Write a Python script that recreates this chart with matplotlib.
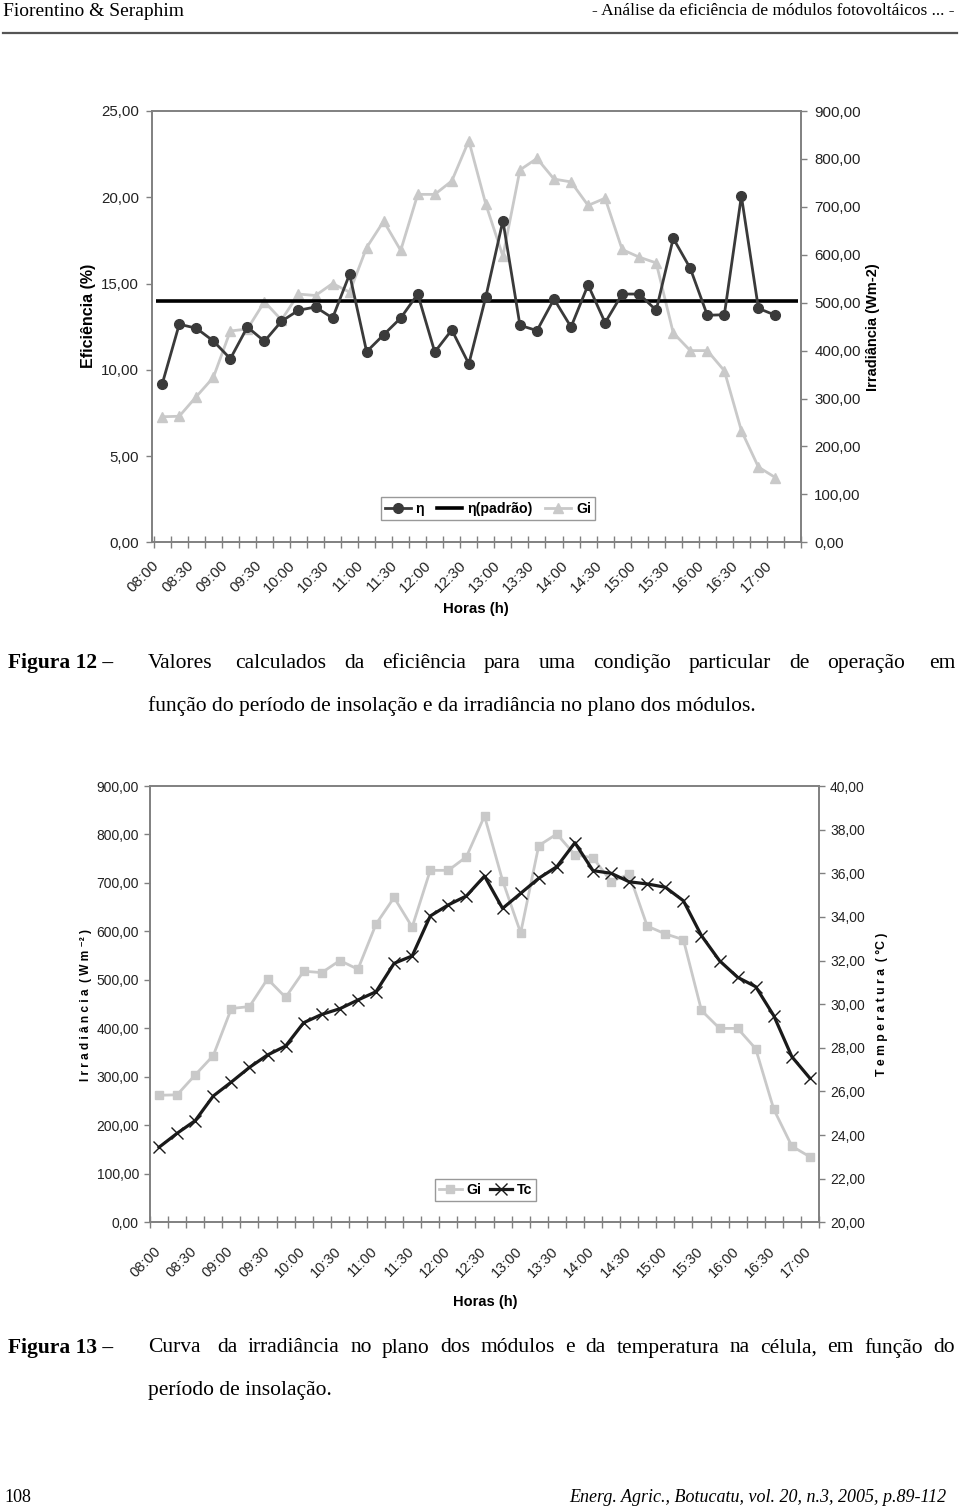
import matplotlib
matplotlib.use('Agg')
import matplotlib.pyplot as plt
from matplotlib.lines import Line2D
from matplotlib.ticker import FuncFormatter
import numpy as np

# ---------------- data ----------------
times = ["08:00", "08:15", "08:30", "08:45", "09:00", "09:15", "09:30", "09:45",
         "10:00", "10:15", "10:30", "10:45", "11:00", "11:15", "11:30", "11:45",
         "12:00", "12:15", "12:30", "12:45", "13:00", "13:15", "13:30", "13:45",
         "14:00", "14:15", "14:30", "14:45", "15:00", "15:15", "15:30", "15:45",
         "16:00", "16:15", "16:30", "16:45", "17:00"]

eta = [9.18, 12.64, 12.41, 11.67, 10.64, 12.48, 11.65, 12.81, 13.45, 13.64,
       13.00, 15.54, 11.05, 12.03, 13.00, 14.39, 11.03, 12.31, 10.34, 14.24,
       18.64, 12.58, 12.27, 14.10, 12.48, 14.92, 12.73, 14.39, 14.39, 13.45,
       17.62, 15.88, 13.16, 13.19, 20.07, 13.56, 13.16]

eta_padrao = 14.0

gi = [262, 263, 304, 344, 441, 445, 502, 464, 518, 515,
      540, 522, 615, 670, 609, 726, 726, 754, 838, 705,
      597, 777, 801, 758, 752, 703, 718, 611, 595, 583,
      437, 400, 400, 358, 233, 157, 135]

tc = [23.44, 24.08, 24.66, 25.79, 26.43, 27.10, 27.67, 28.08, 29.15, 29.53,
      29.79, 30.19, 30.57, 31.87, 32.21, 34.04, 34.55, 34.96, 35.87, 34.39,
      35.08, 35.77, 36.30, 37.40, 36.12, 36.00, 35.61, 35.51, 35.36, 34.74,
      33.14, 31.99, 31.23, 30.80, 29.47, 27.59, 26.60]

eff_ticks = [0, 5, 10, 15, 20, 25]
irr_ticks = [0, 100, 200, 300, 400, 500, 600, 700, 800, 900]
temp_ticks = [20, 22, 24, 26, 28, 30, 32, 34, 36, 38, 40]

# ---------------- helpers ----------------
W, H = 960, 1508
fig = plt.figure(figsize=(W / 100, H / 100), dpi=100)
fig.patch.set_facecolor('white')


def fx(x):
    return x / W


def fy(y):
    return 1 - y / H


def box(l, t, r, b):
    return [fx(l), fy(b), fx(r) - fx(l), fy(t) - fy(b)]


comma = FuncFormatter(lambda v, p: f"{v:.2f}".replace('.', ','))
SPINE = '#808080'
SANS = ['Liberation Sans', 'DejaVu Sans']
SERIF = ['Liberation Serif', 'DejaVu Serif']
GI_COL = '#c9c9c9'


def style_axes(ax, axr, ncat, fs, xfs, xshift, xpad, ypad):
    for a in (ax, axr):
        for s in a.spines.values():
            s.set_color(SPINE)
            s.set_linewidth(1.2)
    ax.set_xlim(-0.5, ncat - 0.5)
    ax.set_xticks(np.arange(-0.5, ncat, 1.0))
    ax.set_xticklabels([])
    ax.set_xticks(np.arange(0, len(times), 2) + xshift, minor=True)
    ax.set_xticklabels(times[::2], minor=True, rotation=45, ha='right',
                       va='top', rotation_mode='anchor', family=SANS,
                       fontsize=xfs, color='#222222')
    ax.tick_params(axis='x', which='major', direction='inout', length=8,
                   width=1, color=SPINE)
    ax.tick_params(axis='x', which='minor', length=0, pad=xpad)
    ax.tick_params(axis='y', direction='out', length=4, width=1,
                   color=SPINE, pad=ypad, labelsize=fs, labelcolor='#222222')
    axr.tick_params(axis='y', direction='out', length=4, width=1,
                    color=SPINE, pad=ypad, labelsize=fs, labelcolor='#222222')
    for lab in ax.get_yticklabels() + axr.get_yticklabels():
        lab.set_family(SANS)


def justify(words, gaps, x0, x1, y, **kw):
    texts = [fig.text(0, fy(y), w, ha='left', va='center', **kw) for w in words]
    r = fig.canvas.get_renderer()
    widths = [t.get_window_extent(r).width for t in texts]
    unit = ((x1 - x0) - sum(widths)) / sum(gaps)
    xx = x0
    for t, w, g in zip(texts, widths, list(gaps) + [0]):
        t.set_x(fx(xx))
        xx += w + g * unit


# ---------------- header / footer ----------------
fig.text(fx(3), fy(11), "Fiorentino & Seraphim", family=SERIF, fontsize=14,
         ha='left', va='center')
fig.text(fx(955), fy(11), "- Análise da eficiência de módulos fotovoltáicos ... -",
         family=SERIF, fontsize=12.5, ha='right', va='center')
fig.add_artist(Line2D([fx(3), fx(957)], [fy(33), fy(33)], color='#555555',
                      lw=1.6, transform=fig.transFigure))
fig.text(fx(4), fy(1497), "108", family=SERIF, fontsize=13, ha='left', va='center')
fig.text(fx(946), fy(1497), "Energ. Agric., Botucatu, vol. 20, n.3, 2005, p.89-112",
         family=SERIF, fontsize=13, style='italic', ha='right', va='center')

# ---------------- Figure 12 ----------------
ax1 = fig.add_axes(box(152, 111, 801, 542.3))
ax1r = ax1.twinx()
x = np.arange(len(times))
ax1r.plot(x, gi, color=GI_COL, lw=2.0, marker='^', ms=6.5, mfc=GI_COL,
          mec=GI_COL)
ax1.plot(x, eta, color='#3a3a3a', lw=2.0, marker='o', ms=7, mfc='#3a3a3a',
         mec='#3a3a3a', zorder=3)
ax1.hlines(eta_padrao, -0.35, 37.3, color='black', lw=2.6, zorder=2)
ax1.set_zorder(ax1r.get_zorder() + 1)
ax1.patch.set_visible(False)
ax1.set_ylim(0, 25)
ax1.set_yticks(eff_ticks)
ax1.yaxis.set_major_formatter(comma)
ax1r.set_ylim(0, 900)
ax1r.set_yticks(irr_ticks)
ax1r.yaxis.set_major_formatter(comma)
style_axes(ax1, ax1r, 38, 10.8, 11, -0.6, 11.5, 5.5)

fig.text(fx(88), fy(316), "Eficiência (%)", rotation=90, ha='center',
         va='center', family=SANS, fontsize=11.5, weight='bold')
fig.text(fx(873), fy(327), "Irradiância (Wm-2)", rotation=90, ha='center',
         va='center', family=SANS, fontsize=10.5, weight='bold')
fig.text(fx(476), fy(609), "Horas (h)", ha='center', va='center', family=SANS,
         fontsize=10.8, weight='bold')

h_eta = Line2D([], [], color='#3a3a3a', lw=2.0, marker='o', ms=7)
h_pad = Line2D([], [], color='black', lw=2.6)
h_gi1 = Line2D([], [], color=GI_COL, lw=2.0, marker='^', ms=6.5)
leg1 = ax1.legend([h_eta, h_pad, h_gi1], ["η", "η(padrão)", "Gi"], ncol=3,
                  loc='center', bbox_to_anchor=(fx(488), fy(508.5)),
                  bbox_transform=fig.transFigure, frameon=True, fancybox=False,
                  edgecolor=SPINE, handlelength=1.8, handletextpad=0.35,
                  columnspacing=0.9, borderpad=0.3,
                  prop={'family': SANS, 'weight': 'bold', 'size': 10.2})
leg1.get_frame().set_linewidth(1.0)

# caption 12
CAP = dict(family=SERIF, fontsize=15.5)
fig.text(fx(8), fy(663), "Figura 12 –", weight='bold', ha='left', va='center', **CAP)
w1 = "Valores calculados da eficiência para uma condição particular de operação em".split()
g1 = [1.25] + [1] * (len(w1) - 3) + [1.3]
justify(w1, g1, 148, 955, 663, **CAP)
fig.text(fx(148), fy(706),
         "função do período de insolação e da irradiância no plano dos módulos.",
         ha='left', va='center', **CAP)

# ---------------- Figure 13 ----------------
ax2 = fig.add_axes(box(150, 786, 819, 1222.3))
ax2r = ax2.twinx()
ax2.plot(x, gi, color=GI_COL, lw=2.0, marker='s', ms=6, mfc=GI_COL, mec=GI_COL)
ax2r.plot(x, tc, color='#1a1a1a', lw=2.3, marker='x', ms=8, mew=1.0)
ax2.set_ylim(0, 900)
ax2.set_yticks(irr_ticks)
ax2.yaxis.set_major_formatter(comma)
ax2r.set_ylim(20, 40)
ax2r.set_yticks(temp_ticks)
ax2r.yaxis.set_major_formatter(comma)
style_axes(ax2, ax2r, 37, 10, 10.5, -0.3, 16, 4)

fig.text(fx(86), fy(1005), "I r r a d i â n c i a  ( W m ⁻² )", rotation=90,
         ha='center', va='center', family=SANS, fontsize=8.6, weight='bold')
fig.text(fx(882), fy(1004), "T e m p e r a t u r a  ( °C )", rotation=90,
         ha='center', va='center', family=SANS, fontsize=8.8, weight='bold')
fig.text(fx(485), fy(1302), "Horas (h)", ha='center', va='center',
         family=SANS, fontsize=10.5, weight='bold')

h_gi2 = Line2D([], [], color=GI_COL, lw=2.0, marker='s', ms=6)
h_tc = Line2D([], [], color='#1a1a1a', lw=2.3, marker='x', ms=8, mew=1.0)
leg2 = ax2r.legend([h_gi2, h_tc], ["Gi", "Tc"], ncol=2, loc='center',
                   bbox_to_anchor=(fx(485.5), fy(1190)),
                   bbox_transform=fig.transFigure, frameon=True, fancybox=False,
                   edgecolor=SPINE, handlelength=1.6, handletextpad=0.3,
                   columnspacing=0.6, borderpad=0.3,
                   prop={'family': SANS, 'weight': 'bold', 'size': 10.2})
leg2.get_frame().set_linewidth(1.0)

# caption 13
fig.text(fx(8), fy(1348), "Figura 13 –", weight='bold', ha='left', va='center', **CAP)
w2 = "Curva da irradiância no plano dos módulos e da temperatura na célula, em função do".split()
g2 = [1.6] + [1] * (len(w2) - 2)
justify(w2, g2, 148, 955, 1348, **CAP)
fig.text(fx(148), fy(1390), "período de insolação.", ha='left', va='center', **CAP)

fig.savefig('out.png', dpi=100, facecolor='white')
